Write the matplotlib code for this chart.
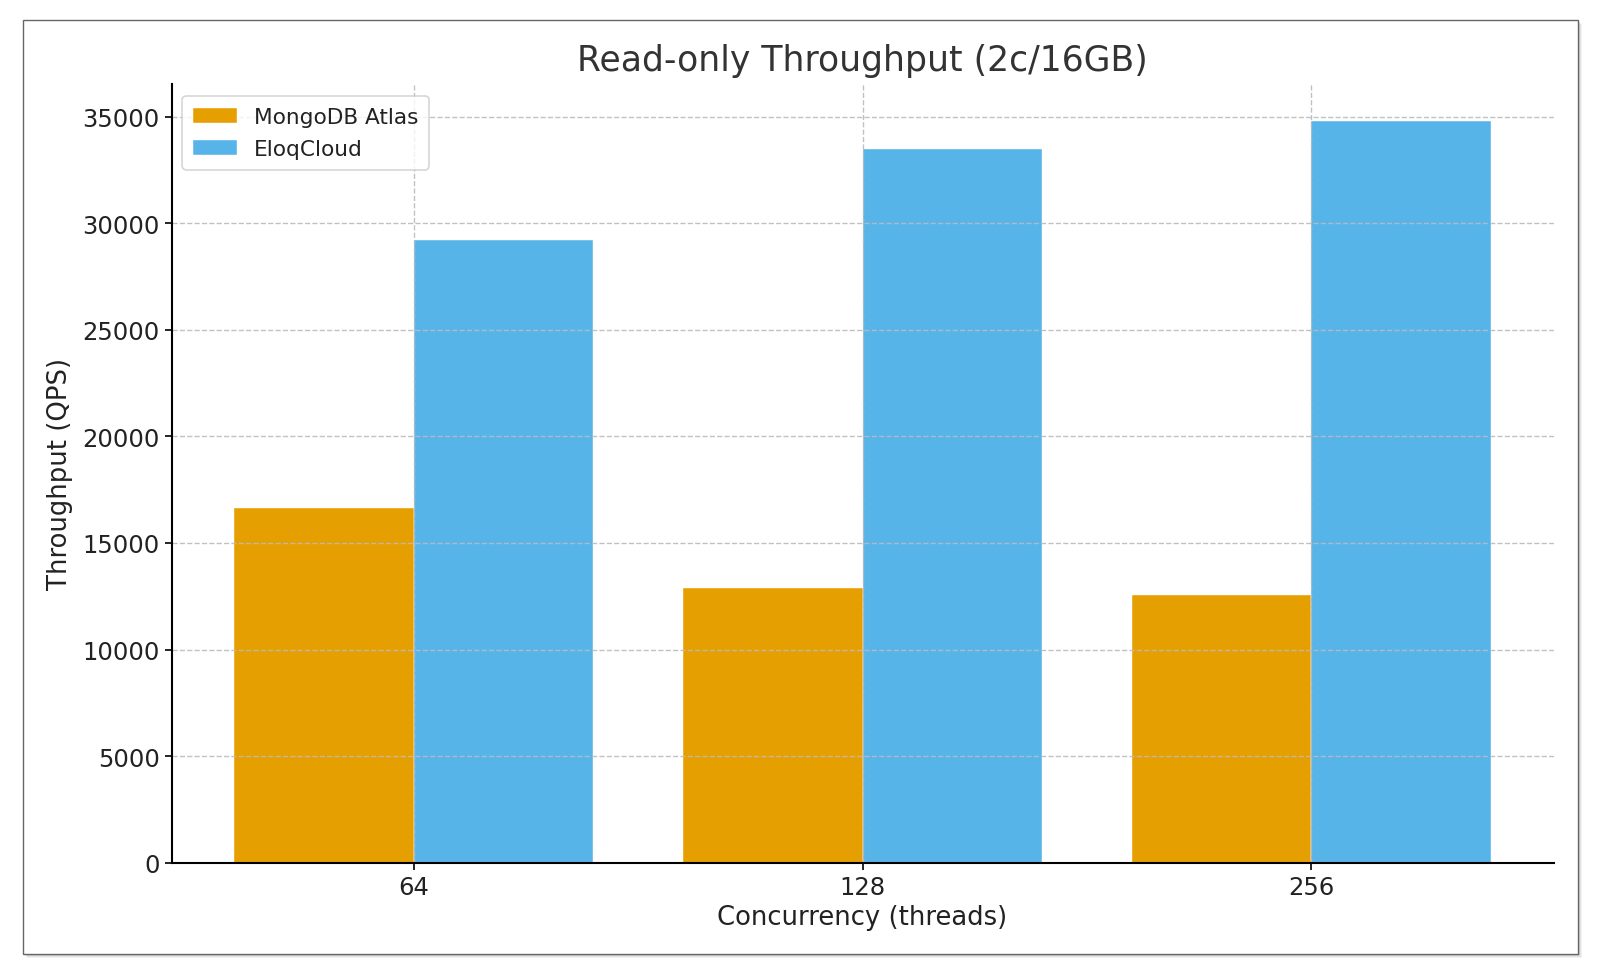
import matplotlib
matplotlib.use("Agg")
import matplotlib.pyplot as plt
import numpy as np
from matplotlib.patches import Rectangle

# --- data ---
concurrency = ["64", "128", "256"]
mongodb_qps = [16630, 12870, 12540]
eloq_qps = [29200, 33500, 34800]

series_names = ["MongoDB Atlas", "EloqCloud"]
colors = ["#E69F00", "#56B4E9"]

W, H = 1600, 979
fig = plt.figure(figsize=(W / 100, H / 100), dpi=100)
fig.patch.set_facecolor("white")

# framed "card" with soft shadow
x0, y0, x1, y1 = 22.5, 20.5, 1578, 954.5
for i, a in enumerate([0.05, 0.06, 0.08, 0.10]):
    off = 4 - i
    fig.patches.append(Rectangle(((x0 + off) / W, 1 - (y1 + off) / H),
                                 (x1 - x0) / W, (y1 - y0) / H,
                                 transform=fig.transFigure, facecolor="black",
                                 edgecolor="none", alpha=a, zorder=0))
fig.patches.append(Rectangle((x0 / W, 1 - y1 / H), (x1 - x0) / W, (y1 - y0) / H,
                             transform=fig.transFigure, facecolor="white",
                             edgecolor="#666666", linewidth=1.0, zorder=1))

ax = fig.add_axes([171.5 / W, 1 - 863.7 / H, (1553.5 - 171.5) / W, (863.7 - 84.7) / H])
ax.set_zorder(2)
ax.patch.set_alpha(0)

x = np.arange(len(concurrency))
width = 0.4
ax.bar(x - width / 2, mongodb_qps, width, color=colors[0], label=series_names[0],
       edgecolor="white", linewidth=0.3, zorder=1)
ax.bar(x + width / 2, eloq_qps, width, color=colors[1], label=series_names[1],
       edgecolor="white", linewidth=0.3, zorder=1)

ax.set_xticks(x)
ax.set_xticklabels(concurrency)
ax.set_yticks(np.arange(0, 35001, 5000))
ax.tick_params(labelsize=17.5, length=5, width=1.2, colors="black", labelcolor="#222222")

ax.grid(True, linestyle="--", color="#bbbbbb", linewidth=1.0, alpha=0.9, zorder=3)
ax.set_axisbelow(False)
for gl in ax.get_xgridlines() + ax.get_ygridlines():
    gl.set_zorder(3)

for s in ["top", "right"]:
    ax.spines[s].set_visible(False)
for s in ["left", "bottom"]:
    ax.spines[s].set_linewidth(1.5)
    ax.spines[s].set_zorder(4)

ax.set_xlabel("Concurrency (threads)", fontsize=18.6, color="#222222", labelpad=4)
ax.set_ylabel("Throughput (QPS)", fontsize=18.6, color="#222222", labelpad=7)
ax.set_title("Read-only Throughput (2c/16GB)", fontsize=24.9, color="#333333", pad=10)

leg = ax.legend(loc="upper left", fontsize=15.6, frameon=True, fancybox=True,
                edgecolor="#cccccc", borderpad=0.5, labelspacing=0.55, handlelength=2.0,
                bbox_to_anchor=(0.0, 0.998))
leg.get_frame().set_linewidth(1.2)
leg.set_zorder(5)
for t in leg.get_texts():
    t.set_color("#222222")

fig.savefig("out.png", dpi=100, facecolor="white")
